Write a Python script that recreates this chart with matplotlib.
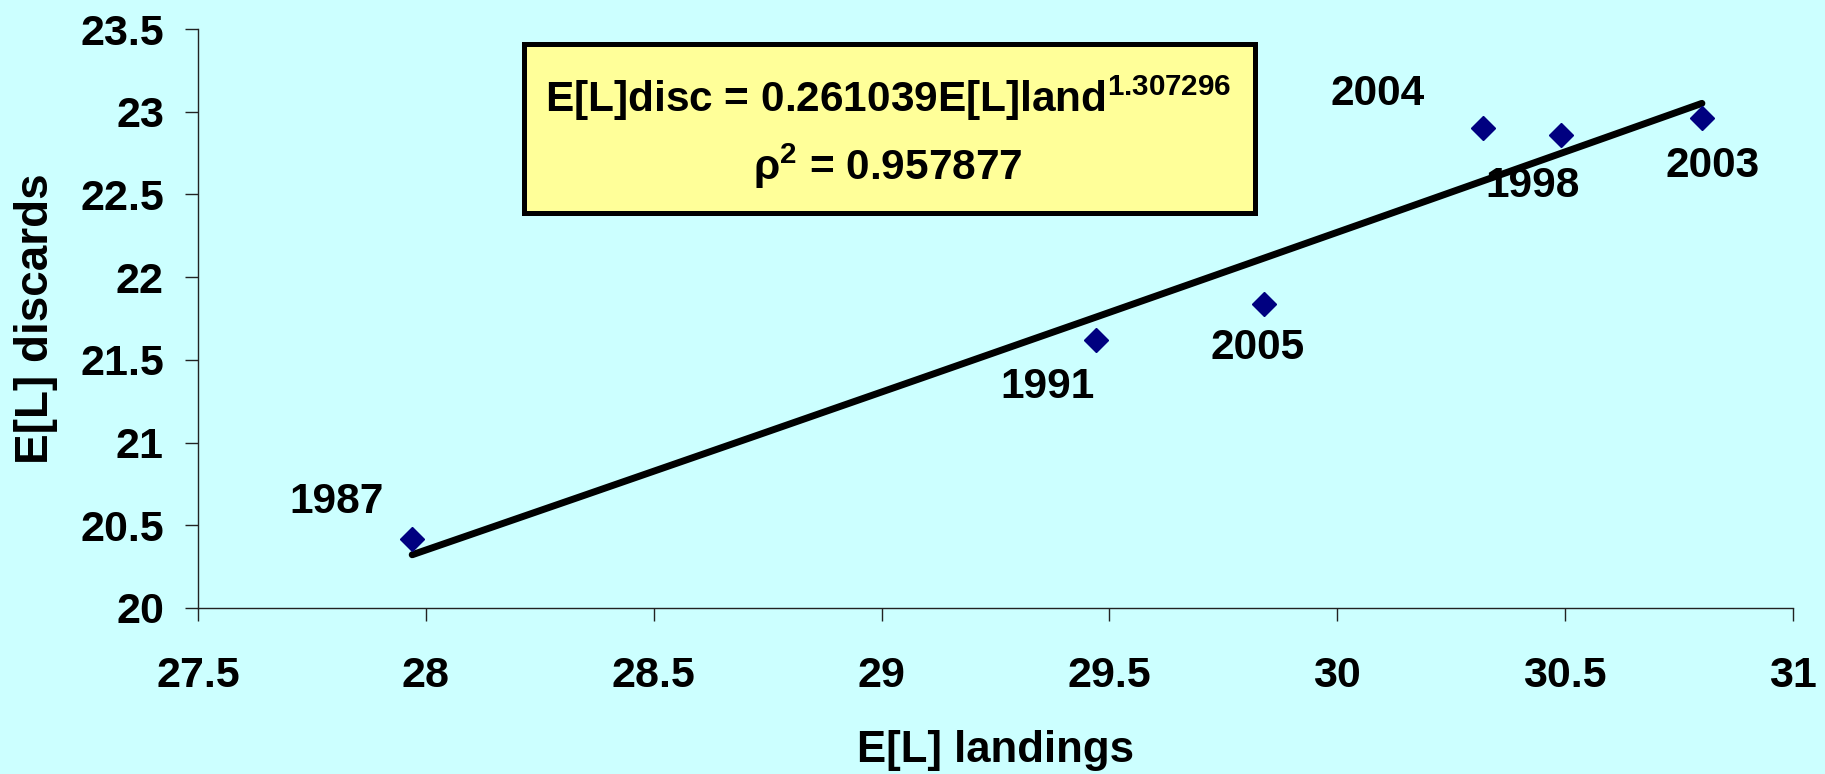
import numpy as np
import matplotlib
matplotlib.use("Agg")
import matplotlib.pyplot as plt
from matplotlib.patches import Rectangle

# Mean length of landings vs. discards by year
years = ["1987", "1991", "2005", "2004", "1998", "2003"]
landings = [27.97, 29.47, 29.84, 30.32, 30.49, 30.80]
discards = [20.42, 21.62, 21.84, 22.90, 22.86, 22.96]

# Power-law fit: E[L]disc = a * E[L]land ** b
fit_a = 0.261039
fit_b = 1.307296
fit_r2 = 0.957877

x_ticks = [27.5, 28, 28.5, 29, 29.5, 30, 30.5, 31]
y_ticks = [20, 20.5, 21, 21.5, 22, 22.5, 23, 23.5]

# label placement relative to each point (pixels)
label_offsets = {
    "1987": (-76, 26),
    "1991": (-48, -58),
    "2005": (-7, -55),
    "2004": (-106, 23),
    "1998": (-28, -62),
    "2003": (11, -59),
}

plt.rcParams["font.family"] = ["Liberation Sans", "DejaVu Sans"]
plt.rcParams["font.weight"] = "bold"
plt.rcParams["mathtext.fontset"] = "custom"
plt.rcParams["mathtext.bf"] = "Liberation Sans:bold"
plt.rcParams["mathtext.rm"] = "Liberation Sans:bold"

bg = "#CCFFFF"
fig = plt.figure(figsize=(18.25, 7.74), dpi=100, facecolor=bg)
ax = fig.add_axes([0.1085, 0.2145, 0.874, 0.748])
ax.set_facecolor(bg)

# fitted curve
xf = np.linspace(min(landings), max(landings), 200)
ax.plot(xf, fit_a * xf ** fit_b, color="black", lw=5.0, solid_capstyle="round", zorder=2)

# observations
ax.plot(landings, discards, linestyle="none", marker="D", ms=12,
        color="#000080", mec="#000080", zorder=3)

for yr, xv, yv in zip(years, landings, discards):
    dx, dy = label_offsets[yr]
    ax.annotate(yr, (xv, yv), xytext=(dx, dy), textcoords="offset pixels",
                ha="center", va="baseline", fontsize=30.5, fontweight="bold",
                zorder=4)

ax.set_xlim(27.5, 31)
ax.set_ylim(20, 23.5)
ax.set_xticks(x_ticks)
ax.set_yticks(y_ticks)
ax.set_xticklabels([f"{v:g}" for v in x_ticks])
ax.set_yticklabels([f"{v:g}" for v in y_ticks])

for s in ("top", "right"):
    ax.spines[s].set_visible(False)
for s in ("left", "bottom"):
    ax.spines[s].set_color("#222222")
    ax.spines[s].set_linewidth(1.0)

ax.tick_params(axis="x", direction="out", length=9.5, width=1.0, color="#222222",
               pad=25, labelsize=31)
ax.tick_params(axis="y", direction="out", length=9.5, width=1.0, color="#222222",
               pad=15, labelsize=31)

ax.set_xlabel("E[L] landings", fontsize=31.5, fontweight="bold", va="center")
ax.xaxis.set_label_coords(0.5, -0.247)
ax.set_ylabel("E[L] discards", fontsize=33, fontweight="bold", va="center", ha="center")
ax.yaxis.set_label_coords(-0.1016, 0.5)

# equation box
box = Rectangle((0.2044, 0.6822), 0.6627 - 0.2044, 0.974 - 0.6822,
                transform=ax.transAxes, facecolor="#FFFF99", edgecolor="black",
                lw=3.6, zorder=5, clip_on=False)
ax.add_patch(box)
eq1 = f"E[L]disc = {fit_a:.6f}E[L]land$^{{\\mathbf{{{fit_b:.6f}}}}}$"
eq2 = f"ρ$^{{\\mathbf{{2}}}}$ = {fit_r2:.6f}"
ax.text(0.4326, 0.8566, eq1, transform=ax.transAxes, ha="center", va="baseline",
        fontsize=30.5, fontweight="bold", zorder=6)
ax.text(0.4326, 0.739, eq2, transform=ax.transAxes, ha="center", va="baseline",
        fontsize=30.5, fontweight="bold", zorder=6)

fig.savefig("out.png", dpi=100, facecolor=bg)
